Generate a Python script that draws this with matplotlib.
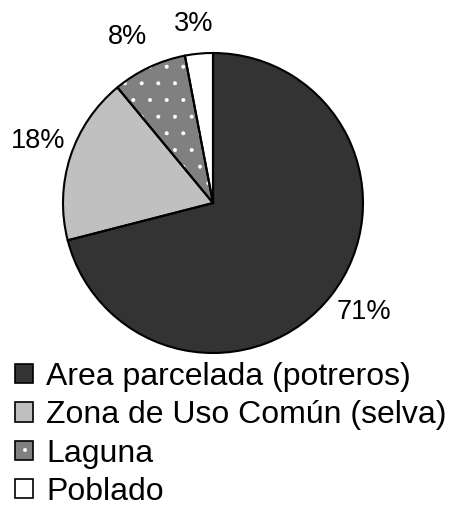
import matplotlib
matplotlib.use("Agg")
import matplotlib.pyplot as plt
from matplotlib.patches import Patch
from matplotlib.legend_handler import HandlerTuple

plt.rcParams["font.family"] = ["Liberation Sans", "DejaVu Sans"]
plt.rcParams["hatch.linewidth"] = 0.4

# data
categories = ["Area parcelada (potreros)", "Zona de Uso Común (selva)", "Laguna", "Poblado"]
values = [71, 18, 8, 3]
pct_labels = ["71%", "18%", "8%", "3%"]

# style
fills = ["#333333", "#c0c0c0", "#808080", "#ffffff"]
hatches = ["", "", ".", ""]
# label positions (data units, pie radius = 1)
label_pos = [(1.007, -0.727), (-1.167, 0.413), (-0.567, 1.107), (-0.127, 1.193)]

fig = plt.figure(figsize=(4.57, 5.07), dpi=100)
ax = fig.add_axes([63 / 457, 1 - 353 / 507, 300 / 457, 300 / 507])

# fills + hatch (hatch colour follows edge colour -> white)
ax.pie(values, colors=fills, hatch=hatches, startangle=90, counterclock=False,
       wedgeprops=dict(edgecolor="white", linewidth=0))
# black outlines on top
ax.pie(values, colors=["none"] * len(values), startangle=90, counterclock=False,
       wedgeprops=dict(edgecolor="black", linewidth=1.5))
ax.set_xlim(-1, 1)
ax.set_ylim(-1, 1)
ax.set_aspect("equal")

for txt, (x, y) in zip(pct_labels, label_pos):
    ax.text(x, y, txt, ha="center", va="center", fontsize=19.5)

handles = []
for c, h in zip(fills, hatches):
    base = Patch(facecolor=c, hatch=h, edgecolor="white", linewidth=0)
    outline = Patch(facecolor="none", edgecolor="black", linewidth=1.2)
    handles.append((base, outline))

fig.legend(handles, categories, handler_map={tuple: HandlerTuple(ndivide=1, pad=0)},
           loc="upper left", bbox_to_anchor=(15 / 457, 1 - 362 / 507),
           frameon=False, fontsize=23, borderpad=0, borderaxespad=0,
           handlelength=0.56, handleheight=0.56, handletextpad=0.42,
           labelspacing=0.26)

fig.savefig("out.png", dpi=100)
